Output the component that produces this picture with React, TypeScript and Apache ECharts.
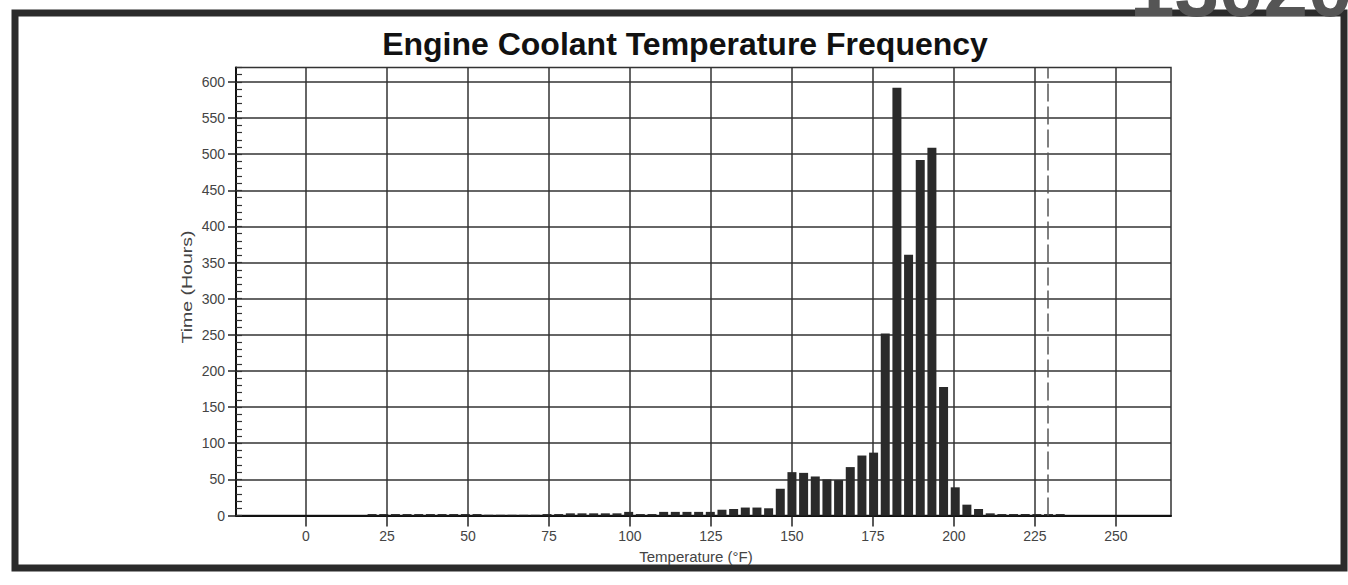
import React, { useEffect, useRef } from "react";
import * as echarts from "echarts";

// Histogram bin centres (°F) and hours spent in each bin
const binCentersF: number[] = [
  20.4, 24.0, 27.6, 31.2, 34.8, 38.4, 42.0, 45.6, 49.2, 52.8,
  56.4, 60.0, 63.6, 67.2, 70.8, 74.4, 78.0, 81.6, 85.2, 88.8,
  92.4, 96.0, 99.6, 103.2, 106.8, 110.4, 114.0, 117.6, 121.2, 124.8,
  128.4, 132.0, 135.6, 139.2, 142.8, 146.4, 150.0, 153.6, 157.2, 160.8,
  164.4, 168.0, 171.6, 175.2, 178.8, 182.4, 186.0, 189.6, 193.2, 196.8,
  200.4, 204.0, 207.6, 211.2, 214.8, 218.4, 222.0, 225.6, 229.2, 232.8,
];
const hours: number[] = [
  2, 2, 2, 2, 2, 2, 2, 2, 2, 2,
  1, 1, 1, 1, 1, 2, 2, 3, 3, 3,
  3, 3, 5, 2, 2, 5, 5, 5, 5, 5,
  8, 9, 11, 11, 10, 37, 60, 59, 54, 50,
  49, 67, 83, 87, 252, 592, 361, 492, 509, 178,
  39, 15, 9, 3, 2, 2, 2, 2, 2, 2,
];
const xTickValues: number[] = [0, 25, 50, 75, 100, 125, 150, 175, 200, 225, 250];
const yTickValues: number[] = [0, 50, 100, 150, 200, 250, 300, 350, 400, 450, 500, 550, 600];
const limitF = 229;

const titleText = "Engine Coolant Temperature Frequency";
const xName = "Temperature (°F)";
const yName = "Time (Hours)";
const stampText = "13020";

const FONT = "'Liberation Sans', Arial, sans-serif";

export default function App() {
  const ref = useRef<HTMLDivElement>(null);
  useEffect(() => {
    if (!ref.current) return;
    const chart = echarts.init(ref.current, null, { renderer: "svg" });
    const data = binCentersF.map((x, i) => [x, hours[i]]);
    chart.setOption({
      animation: false,
      backgroundColor: "#ffffff",
      textStyle: { fontFamily: FONT },
      grid: {
        left: 236,
        right: 177,
        top: 67.5,
        bottom: 69.5,
        show: true,
        borderColor: "#333",
        borderWidth: 1.5,
        backgroundColor: "transparent",
      },
      xAxis: {
        type: "value",
        min: -21.6,
        max: 267,
        axisLine: { show: true, onZero: false, lineStyle: { color: "#111", width: 2 } },
        axisTick: { show: true, length: 11, customValues: xTickValues, lineStyle: { color: "#222", width: 1.5 } },
        axisLabel: { show: true, customValues: xTickValues, margin: 13, fontSize: 14, color: "#444", fontFamily: FONT },
        splitLine: { show: true, lineStyle: { color: "#333", width: 1.5 } },
      },
      yAxis: [
        {
          type: "value",
          min: 0,
          max: 620,
          axisLine: { show: true, onZero: false, lineStyle: { color: "#111", width: 2 } },
          axisTick: { show: true, length: 8, customValues: yTickValues, lineStyle: { color: "#222", width: 1.5 } },
          axisLabel: { show: true, customValues: yTickValues, margin: 11, fontSize: 14, color: "#444", fontFamily: FONT },
          splitLine: { show: true, lineStyle: { color: "#333", width: 1.5 } },
        },
        {
          type: "value",
          min: 0,
          max: 620,
          interval: 10,
          position: "left",
          axisLine: { show: false, onZero: false },
          axisTick: { show: true, inside: true, length: 6, lineStyle: { color: "#333", width: 1.2 } },
          axisLabel: { show: false },
          splitLine: { show: false },
        },
      ],
      series: [
        {
          type: "bar",
          xAxisIndex: 0,
          yAxisIndex: 0,
          data,
          barWidth: 9,
          itemStyle: { color: "#2a2a2a" },
          markLine: {
            silent: true,
            symbol: "none",
            label: { show: false },
            lineStyle: { type: [18, 5], color: "#555", width: 1.5 },
            data: [{ xAxis: limitF }],
          },
        },
      ],
      graphic: [
        {
          type: "rect",
          z: 0,
          shape: { x: 15, y: 13, width: 1329, height: 555 },
          style: { fill: "none", stroke: "#2b2b2b", lineWidth: 7 },
        },
        {
          type: "text",
          x: 685,
          y: 44,
          style: {
            text: titleText,
            font: `bold 32px ${FONT}`,
            fill: "#111",
            textAlign: "center",
            textVerticalAlign: "middle",
          },
        },
        {
          type: "text",
          x: 696,
          y: 556,
          style: {
            text: xName,
            font: `15px ${FONT}`,
            fill: "#444",
            textAlign: "center",
            textVerticalAlign: "middle",
          },
        },
        {
          type: "text",
          x: 187,
          y: 287,
          rotation: Math.PI / 2,
          scaleX: 1.3,
          style: {
            text: yName,
            font: `15px ${FONT}`,
            fill: "#444",
            textAlign: "center",
            textVerticalAlign: "middle",
          },
        },
        {
          type: "text",
          x: 1130,
          y: -12,
          style: {
            text: stampText,
            font: `bold 80px ${FONT}`,
            fill: "#555",
            textAlign: "left",
            textVerticalAlign: "middle",
          },
        },
      ],
    });
    return () => chart.dispose();
  }, []);
  return (
    <div
      ref={ref}
      style={{ position: "absolute", left: 0, top: 0, width: 1348, height: 585 }}
    />
  );
}
